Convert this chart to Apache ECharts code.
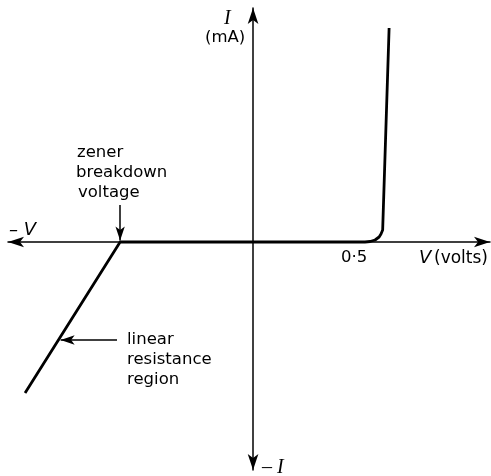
<!DOCTYPE html>
<html>
<head>
<meta charset="utf-8">
<script src="https://cdn.jsdelivr.net/npm/echarts@6/dist/echarts.min.js"></script>
<style>
  html, body { margin: 0; padding: 0; background: #fff; }
  #diodeChart { width: 491px; height: 476px; }
</style>
</head>
<body>
<div id="diodeChart"></div>
<script>
  // V in volts, I in mA (sketch values)
  var curveV = [-1.096, -0.639, 0.538, 0.5625, 0.5865, 0.606, 0.615, 0.623, 0.654]
  var curveI = [-15.1, 0, 0, 0.05, 0.2, 0.5, 0.8, 1.2, 21.4]
  var zenerArrow = [[-0.639, 3.7], [-0.639, 0.15]]
  var linearArrow = [[-0.654, -9.8], [-0.925, -9.8]]

  var fontName = 'DejaVu Sans'
  var chart = echarts.init(document.getElementById('diodeChart'))

  function label(text, x, y, style) {
    return {
      type: 'text',
      left: x,
      top: y,
      style: Object.assign({
        text: text,
        fill: '#000',
        fontFamily: fontName,
        fontSize: 16.5
      }, style || {})
    }
  }

  var option = {
    animation: false,
    grid: {left: 8, right: 1, top: 8, bottom: 6},
    xAxis: {
      type: 'value',
      min: -1.178,
      max: 1.139,
      axisLine: {
        onZero: true,
        symbol: ['arrow', 'arrow'],
        symbolSize: [8, 16],
        lineStyle: {color: '#000', width: 1.5}
      },
      axisTick: {show: false},
      axisLabel: {show: false},
      splitLine: {show: false}
    },
    yAxis: {
      type: 'value',
      min: -22.8,
      max: 23.4,
      axisLine: {
        onZero: true,
        symbol: ['arrow', 'arrow'],
        symbolSize: [8, 16],
        lineStyle: {color: '#000', width: 1.5}
      },
      axisTick: {show: false},
      axisLabel: {show: false},
      splitLine: {show: false}
    },
    series: [{
      type: 'line',
      data: curveV.map(function (v, i) { return [v, curveI[i]] }),
      showSymbol: false,
      lineStyle: {color: '#000', width: 2.8, join: 'round'},
      markLine: {
        silent: true,
        symbol: ['none', 'arrow'],
        symbolSize: [7, 14],
        label: {show: false},
        lineStyle: {color: '#000', width: 1.5, type: 'solid'},
        data: [
          [{coord: zenerArrow[0]}, {coord: zenerArrow[1]}],
          [{coord: linearArrow[0]}, {coord: linearArrow[1]}]
        ]
      }
    }],
    graphic: [
      label('I', 224, 9, {fontFamily: 'Liberation Serif', fontStyle: 'italic', fontSize: 20}),
      label('(mA)', 205, 29),
      label('zener', 77, 144),
      label('breakdown', 76, 164),
      label('voltage', 78, 184),
      label('– V', 9, 221, {fontStyle: 'italic', fontSize: 18}),
      label('0·5', 341, 249),
      label('V', 419, 249, {fontStyle: 'italic', fontSize: 18}),
      label('(volts)', 434, 250, {fontSize: 17}),
      label('linear', 127, 331),
      label('resistance', 127, 351),
      label('region', 127, 371),
      label('– I', 262, 458, {fontFamily: 'Liberation Serif', fontStyle: 'italic', fontSize: 20})
    ]
  }
  chart.setOption(option)
</script>
</body>
</html>
